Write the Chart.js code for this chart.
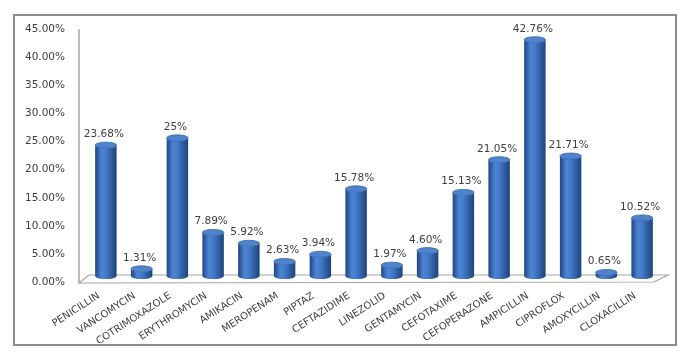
<!DOCTYPE html>
<html><head><meta charset="utf-8">
<script src="https://cdn.jsdelivr.net/npm/chart.js@4"></script>
<style>html,body{margin:0;padding:0;background:#fff}#wrap{width:689px;height:357px;position:relative}</style>
</head><body><div id="wrap"><canvas id="c" width="689" height="357"></canvas></div>
<script>
const categories = ["PENICILLIN","VANCOMYCIN","COTRIMOXAZOLE","ERYTHROMYCIN","AMIKACIN","MEROPENAM","PIPTAZ","CEFTAZIDIME","LINEZOLID","GENTAMYCIN","CEFOTAXIME","CEFOPERAZONE","AMPICILLIN","CIPROFLOX","AMOXYCILLIN","CLOXACILLIN"];
const values = [23.68,1.31,25,7.89,5.92,2.63,3.94,15.78,1.97,4.60,15.13,21.05,42.76,21.71,0.65,10.52];
const valueLabels = ["23.68%","1.31%","25%","7.89%","5.92%","2.63%","3.94%","15.78%","1.97%","4.60%","15.13%","21.05%","42.76%","21.71%","0.65%","10.52%"];
const yMin = 0, yMax = 45, yStep = 5;
// hidden 3-D depth scale for the cylinders (bars sit on the back of the floor)
const depthMin = -1.08, depthMax = 44.64;

const FONT = "'DejaVu Sans', Verdana, sans-serif";

const decor = {
  id: 'decor',
  beforeDraw(chart) {
    const ctx = chart.ctx;
    ctx.save();
    ctx.fillStyle = '#fff';
    ctx.fillRect(0, 0, chart.width, chart.height);
    ctx.restore();
  },
  beforeDatasetsDraw(chart) {
    const ctx = chart.ctx, a = chart.chartArea;
    ctx.save();
    ctx.strokeStyle = '#a6a6a6';
    ctx.lineWidth = 1.5;
    ctx.beginPath();
    ctx.moveTo(a.left - 9, a.top);
    ctx.lineTo(a.left - 9, a.bottom + 1);
    ctx.stroke();
    ctx.lineWidth = 1.2;
    ctx.beginPath();
    ctx.moveTo(a.left - 9, a.bottom + 1);
    ctx.lineTo(a.left + 1, a.bottom - 7);
    ctx.lineTo(a.right + 8, a.bottom - 7);
    ctx.lineTo(a.right - 6, a.bottom);
    ctx.closePath();
    ctx.stroke();
    ctx.restore();
  },
  afterDatasetsDraw(chart) {
    const ctx = chart.ctx;
    const meta = chart.getDatasetMeta(0);
    const xs = chart.scales.x, a = chart.chartArea;
    ctx.save();
    meta.data.forEach((bar, i) => {
      const p = bar.getProps(['x','y','base','width'], true);
      const cx = p.x, rx = p.width / 2, ry = 3;
      const top = p.y, base = p.base;
      const g = ctx.createLinearGradient(cx - rx, 0, cx + rx, 0);
      g.addColorStop(0, '#1d4683');
      g.addColorStop(0.3, '#4d84d3');
      g.addColorStop(0.5, '#437aca');
      g.addColorStop(1, '#1c4479');
      ctx.fillStyle = g;
      ctx.beginPath();
      ctx.ellipse(cx, base, rx, ry, 0, 0, Math.PI);
      ctx.lineTo(cx - rx, top);
      ctx.ellipse(cx, top, rx, ry, 0, Math.PI, 0, true);
      ctx.closePath();
      ctx.fill();
      ctx.beginPath();
      ctx.ellipse(cx, top, rx, ry, 0, 0, Math.PI * 2);
      ctx.fillStyle = '#4f83cc';
      ctx.fill();
      ctx.strokeStyle = '#3566ae';
      ctx.lineWidth = 0.8;
      ctx.stroke();
      ctx.fillStyle = '#404040';
      ctx.font = '10.5px ' + FONT;
      ctx.textAlign = 'center';
      ctx.textBaseline = 'alphabetic';
      ctx.fillText(valueLabels[i], cx - 2, top - ry - 5);
    });
    // category labels, rotated, placed with the category scale
    ctx.fillStyle = '#404040';
    ctx.font = '10px ' + FONT;
    ctx.textAlign = 'right';
    ctx.textBaseline = 'middle';
    categories.forEach((c, i) => {
      const x = xs.getPixelForTick(i);
      ctx.save();
      ctx.translate(x - 7, a.bottom + 13);
      ctx.rotate(-33 * Math.PI / 180);
      ctx.fillText(c, 0, 0);
      ctx.restore();
    });
    ctx.restore();
  },
  afterDraw(chart) {
    const ctx = chart.ctx;
    ctx.save();
    ctx.strokeStyle = '#8c8c8c';
    ctx.lineWidth = 2;
    ctx.strokeRect(14, 15, 662, 330);
    ctx.restore();
  }
};

new Chart(document.getElementById('c'), {
  type: 'bar',
  data: {
    labels: categories,
    datasets: [{
      data: values,
      yAxisID: 'y2',
      backgroundColor: 'rgba(0,0,0,0)',
      borderWidth: 0,
      barPercentage: 0.6,
      categoryPercentage: 1.0
    }]
  },
  plugins: [decor],
  options: {
    responsive: false,
    devicePixelRatio: 1,
    animation: false,
    layout: { padding: { left: 14, right: 29, top: 28, bottom: 0 } },
    plugins: { legend: { display: false }, tooltip: { enabled: false }, title: { display: false } },
    scales: {
      y: {
        min: yMin, max: yMax,
        ticks: {
          stepSize: yStep,
          padding: 23,
          color: '#404040',
          font: { family: FONT, size: 10.5 },
          callback: v => v.toFixed(2) + '%'
        },
        grid: { display: false, drawTicks: false },
        border: { display: false },
        afterFit(s) { s.width = 74; }
      },
      y2: {
        display: false,
        min: depthMin, max: depthMax
      },
      x: {
        ticks: { display: false, autoSkip: false },
        grid: { display: false, drawTicks: false },
        border: { display: false },
        afterFit(s) { s.height = 75; }
      }
    }
  }
});
</script></body></html>
